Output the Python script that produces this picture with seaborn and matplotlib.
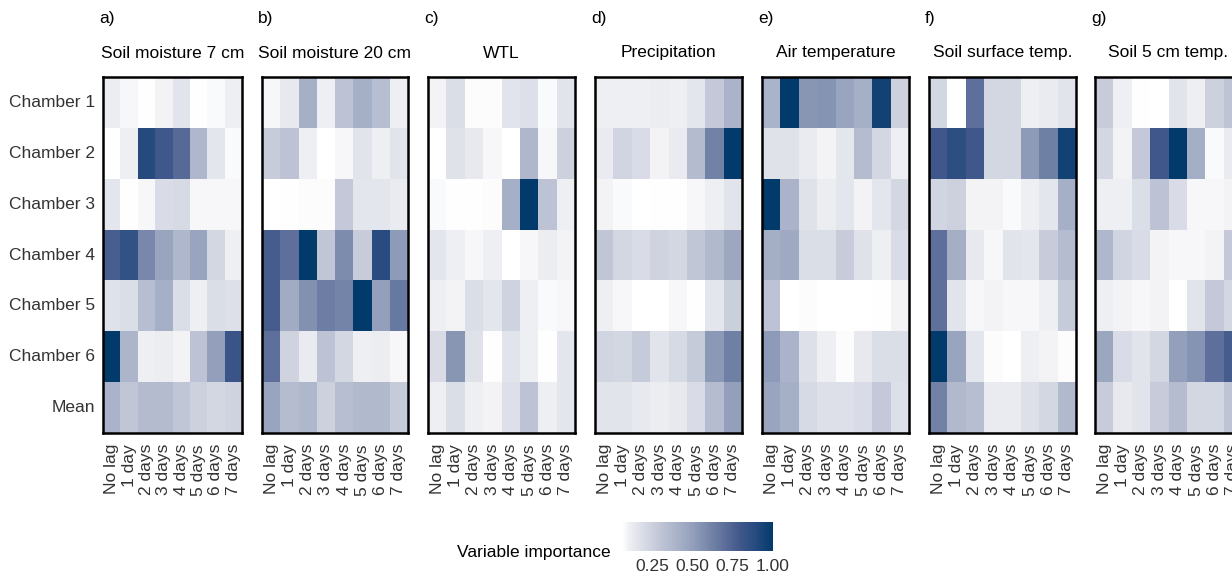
import numpy as np
import pandas as pd
import seaborn as sns
import matplotlib.pyplot as plt
from matplotlib.colors import LinearSegmentedColormap

chambers = ["Chamber 1", "Chamber 2", "Chamber 3", "Chamber 4", "Chamber 5", "Chamber 6", "Mean"]
lags = ["No lag", "1 day", "2 days", "3 days", "4 days", "5 days", "6 days", "7 days"]
tags = ["a)", "b)", "c)", "d)", "e)", "f)", "g)"]
titles = ["Soil moisture 7 cm", "Soil moisture 20 cm", "WTL", "Precipitation",
          "Air temperature", "Soil surface temp.", "Soil 5 cm temp."]

# rows = chambers (1-6, mean), columns = lags
soil_moisture_7 = [
    [0.12, 0.09, 0.07, 0.10, 0.16, 0.07, 0.08, 0.11],
    [0.065, 0.11, 0.90, 0.80, 0.72, 0.38, 0.15, 0.08],
    [0.15, 0.07, 0.09, 0.20, 0.21, 0.09, 0.09, 0.09],
    [0.77, 0.85, 0.60, 0.48, 0.38, 0.48, 0.22, 0.11],
    [0.17, 0.19, 0.34, 0.42, 0.19, 0.11, 0.19, 0.18],
    [1.00, 0.39, 0.11, 0.12, 0.10, 0.32, 0.50, 0.82],
    [0.40, 0.30, 0.36, 0.36, 0.30, 0.25, 0.22, 0.24],
]
soil_moisture_20 = [
    [0.09, 0.14, 0.42, 0.11, 0.32, 0.42, 0.34, 0.11],
    [0.27, 0.32, 0.11, 0.065, 0.09, 0.16, 0.11, 0.16],
    [0.065, 0.07, 0.075, 0.075, 0.29, 0.15, 0.15, 0.13],
    [0.78, 0.70, 1.00, 0.30, 0.58, 0.27, 0.88, 0.52],
    [0.78, 0.44, 0.56, 0.64, 0.61, 1.00, 0.50, 0.66],
    [0.70, 0.24, 0.13, 0.32, 0.22, 0.11, 0.12, 0.09],
    [0.48, 0.35, 0.38, 0.25, 0.34, 0.37, 0.37, 0.28],
]
wtl = [
    [0.10, 0.19, 0.075, 0.075, 0.16, 0.18, 0.08, 0.16],
    [0.065, 0.17, 0.14, 0.09, 0.065, 0.38, 0.09, 0.25],
    [0.08, 0.07, 0.07, 0.075, 0.42, 1.00, 0.32, 0.11],
    [0.15, 0.11, 0.09, 0.11, 0.065, 0.09, 0.12, 0.10],
    [0.11, 0.10, 0.19, 0.15, 0.24, 0.11, 0.08, 0.09],
    [0.20, 0.54, 0.17, 0.07, 0.16, 0.11, 0.07, 0.15],
    [0.11, 0.19, 0.11, 0.10, 0.18, 0.32, 0.11, 0.15],
]
precipitation = [
    [0.11, 0.11, 0.11, 0.12, 0.11, 0.15, 0.29, 0.40],
    [0.13, 0.23, 0.20, 0.10, 0.13, 0.36, 0.62, 1.00],
    [0.10, 0.08, 0.065, 0.07, 0.07, 0.09, 0.11, 0.16],
    [0.30, 0.22, 0.20, 0.24, 0.22, 0.30, 0.37, 0.46],
    [0.11, 0.09, 0.065, 0.065, 0.09, 0.07, 0.15, 0.26],
    [0.23, 0.22, 0.28, 0.16, 0.21, 0.28, 0.53, 0.63],
    [0.16, 0.16, 0.14, 0.12, 0.14, 0.20, 0.35, 0.50],
]
air_temperature = [
    [0.40, 1.00, 0.54, 0.55, 0.48, 0.42, 0.95, 0.25],
    [0.17, 0.17, 0.13, 0.10, 0.15, 0.35, 0.22, 0.11],
    [1.00, 0.40, 0.17, 0.12, 0.15, 0.10, 0.15, 0.22],
    [0.43, 0.45, 0.19, 0.19, 0.27, 0.17, 0.11, 0.20],
    [0.32, 0.065, 0.075, 0.065, 0.065, 0.065, 0.07, 0.10],
    [0.52, 0.40, 0.18, 0.11, 0.075, 0.14, 0.19, 0.19],
    [0.48, 0.42, 0.21, 0.18, 0.18, 0.20, 0.29, 0.18],
]
soil_surface_temp = [
    [0.22, 0.065, 0.70, 0.22, 0.22, 0.11, 0.13, 0.16],
    [0.80, 0.87, 0.80, 0.22, 0.22, 0.52, 0.63, 0.95],
    [0.23, 0.25, 0.10, 0.10, 0.08, 0.11, 0.15, 0.42],
    [0.70, 0.43, 0.14, 0.09, 0.16, 0.15, 0.27, 0.35],
    [0.69, 0.16, 0.09, 0.10, 0.09, 0.09, 0.11, 0.28],
    [1.00, 0.48, 0.15, 0.075, 0.065, 0.11, 0.10, 0.075],
    [0.62, 0.37, 0.34, 0.13, 0.13, 0.18, 0.22, 0.37],
]
soil_5cm_temp = [
    [0.27, 0.11, 0.07, 0.065, 0.16, 0.11, 0.25, 0.31],
    [0.22, 0.10, 0.29, 0.80, 1.00, 0.43, 0.08, 0.13],
    [0.11, 0.11, 0.19, 0.32, 0.20, 0.09, 0.09, 0.10],
    [0.38, 0.23, 0.20, 0.10, 0.09, 0.09, 0.10, 0.29],
    [0.11, 0.10, 0.09, 0.10, 0.065, 0.16, 0.29, 0.22],
    [0.47, 0.20, 0.16, 0.22, 0.50, 0.55, 0.70, 0.78],
    [0.27, 0.14, 0.16, 0.27, 0.35, 0.22, 0.22, 0.31],
]
panels = [soil_moisture_7, soil_moisture_20, wtl, precipitation,
          air_temperature, soil_surface_temp, soil_5cm_temp]

sns.set_theme(style="white")
plt.rcParams['font.family'] = ['Liberation Sans', 'DejaVu Sans']

W, H = 1232, 580
fig = plt.figure(figsize=(W / 100, H / 100), dpi=100)
vmin, vmax = 0.065, 1.0
# white -> navy gradient with greyish-lavender mid tones (like a Lab blend)
stops = [(0.065, "#ffffff"), (0.11, "#eeeff3"), (0.22, "#d3d7e2"), (0.30, "#c1c6d6"),
         (0.40, "#aab3c9"), (0.50, "#94a0bb"), (0.62, "#7282a7"), (0.70, "#5d6f9a"),
         (0.80, "#40578a"), (0.90, "#244a7e"), (1.0, "#023a6b")]
cmap = LinearSegmentedColormap.from_list(
    "imp", [((v - vmin) / (vmax - vmin), c) for v, c in stops])
text_col = "#333333"
fs = 12.5

lefts = [103, 262, 428, 595, 762, 929, 1095]
widths = [139, 146, 147, 147, 147, 147, 147]
top, bottom = 77, 433

for i, vals in enumerate(panels):
    ax = fig.add_axes([lefts[i] / W, 1 - bottom / H, widths[i] / W, (bottom - top) / H])
    df = pd.DataFrame(vals, index=chambers, columns=lags)
    sns.heatmap(df, ax=ax, cmap=cmap, vmin=vmin, vmax=vmax, cbar=False)
    for s in ax.spines.values():
        s.set_visible(True)
        s.set_color("black")
        s.set_linewidth(1.8)
    ax.tick_params(length=0, labelsize=fs, labelcolor=text_col)
    ax.tick_params(axis='x', pad=8)
    ax.tick_params(axis='y', pad=6)
    ax.set_xticklabels(lags, rotation=90, va='top')
    if i == 0:
        ax.set_yticklabels(chambers, rotation=0)
    else:
        ax.set_yticklabels([])
    ax.set_xlabel("")
    ax.set_ylabel("")
    cx = (lefts[i] + widths[i] / 2) / W
    fig.text(cx, 1 - 53 / H, titles[i], ha='center', va='center', fontsize=fs, color="black")
    fig.text((lefts[i] - 4) / W, 1 - 18 / H, tags[i], ha='left', va='center', fontsize=fs, color="black")

# colour bar
cax = fig.add_axes([622 / W, 1 - 551 / H, 151 / W, 29 / H])
cb = fig.colorbar(ax.collections[0], cax=cax, orientation='horizontal', ticks=[0.25, 0.5, 0.75, 1.0])
cb.outline.set_visible(False)
cb.ax.set_xticklabels(["0.25", "0.50", "0.75", "1.00"])
cax.tick_params(axis='x', color='white', labelcolor=text_col, direction='in', length=5,
                width=1, top=True, bottom=True, labelsize=fs, pad=6)
fig.text(611 / W, 1 - 553 / H, "Variable importance", ha='right', va='center', fontsize=fs, color="black")

fig.savefig("out.png", dpi=100)
